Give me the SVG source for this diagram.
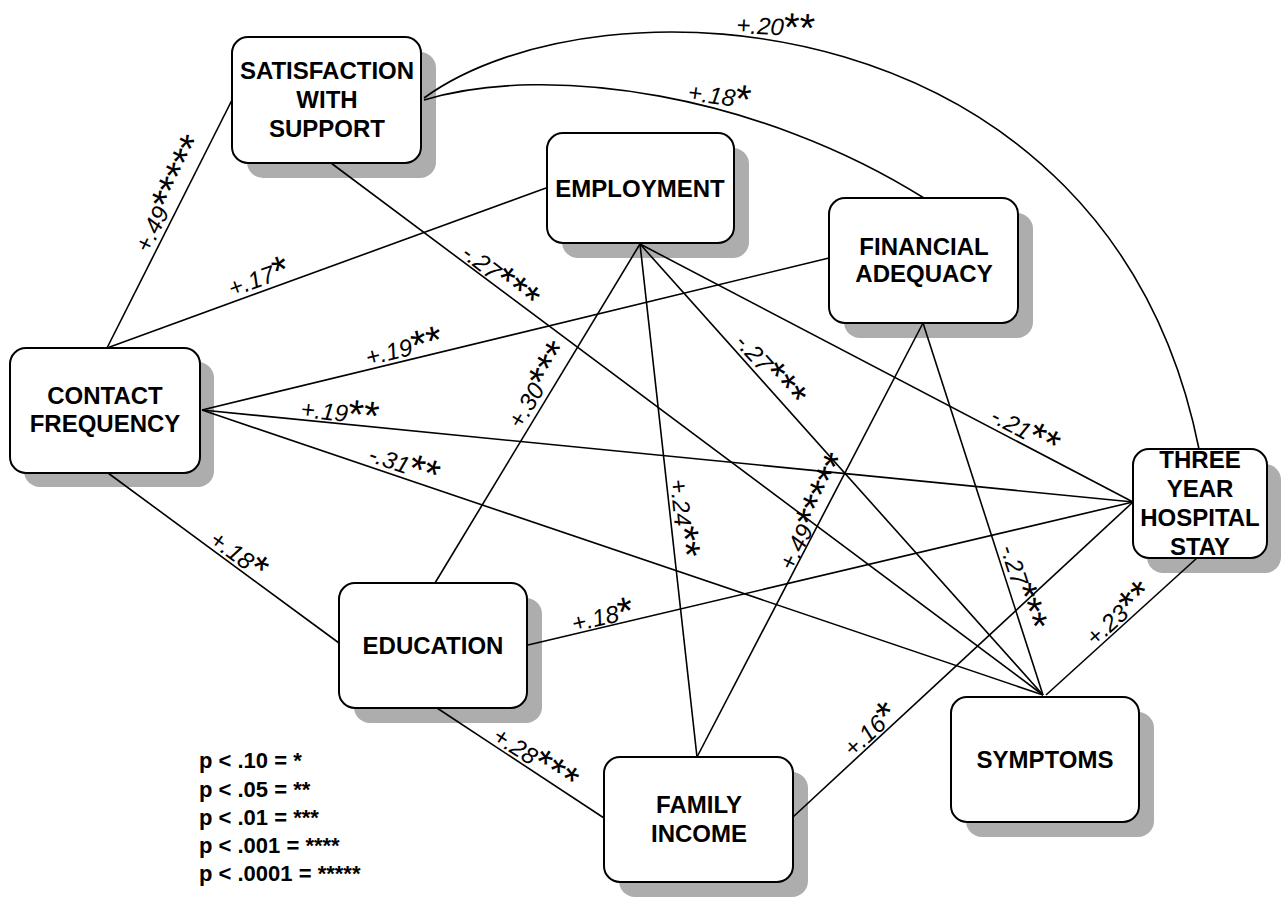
<svg xmlns="http://www.w3.org/2000/svg" width="1281" height="898" viewBox="0 0 1281 898">
<style>
.box{fill:#fff;stroke:#000;stroke-width:2}
.sh{fill:#adadad}
.nt{font-family:"Liberation Sans",Arial,sans-serif;font-weight:bold;font-size:24px;text-anchor:middle;fill:#000}
.ln{fill:none;stroke:#000;stroke-width:1.6}
.lb{font-family:"Liberation Sans",Arial,sans-serif;font-style:italic;font-size:24px;fill:#000}
.st{font-style:normal;font-size:40px}
.lg{font-family:"Liberation Sans",Arial,sans-serif;font-weight:bold;font-size:22px;fill:#000}
</style>
<rect width="1281" height="898" fill="#fff"/>
<g id="satisfaction">
<rect class="sh" x="247" y="52" width="189" height="126" rx="16"/>
<rect class="box" x="232" y="37" width="189" height="126" rx="16"/>
<text class="nt" x="327" y="79">SATISFACTION</text>
<text class="nt" x="327" y="108">WITH</text>
<text class="nt" x="327" y="137">SUPPORT</text>
</g>
<g id="employment">
<rect class="sh" x="562" y="148" width="187" height="110" rx="16"/>
<rect class="box" x="547" y="133" width="187" height="110" rx="16"/>
<text class="nt" x="640" y="197">EMPLOYMENT</text>
</g>
<g id="financial">
<rect class="sh" x="844" y="213" width="189" height="125" rx="16"/>
<rect class="box" x="829" y="198" width="189" height="125" rx="16"/>
<text class="nt" x="924" y="255">FINANCIAL</text>
<text class="nt" x="924" y="282">ADEQUACY</text>
</g>
<g id="contact">
<rect class="sh" x="24" y="362" width="190" height="125" rx="16"/>
<rect class="box" x="10" y="348" width="190" height="125" rx="16"/>
<text class="nt" x="105" y="404">CONTACT</text>
<text class="nt" x="105" y="432">FREQUENCY</text>
</g>
<g id="education">
<rect class="sh" x="354" y="598" width="188" height="125" rx="16"/>
<rect class="box" x="339" y="583" width="188" height="125" rx="16"/>
<text class="nt" x="433" y="654">EDUCATION</text>
</g>
<g id="family">
<rect class="sh" x="619" y="772" width="189" height="125" rx="16"/>
<rect class="box" x="604" y="757" width="189" height="125" rx="16"/>
<text class="nt" x="699" y="813">FAMILY</text>
<text class="nt" x="699" y="842">INCOME</text>
</g>
<g id="symptoms">
<rect class="sh" x="966" y="712" width="188" height="125" rx="16"/>
<rect class="box" x="951" y="697" width="188" height="125" rx="16"/>
<text class="nt" x="1045" y="768">SYMPTOMS</text>
</g>
<g id="hospital">
<rect class="sh" x="1147" y="464" width="134" height="109" rx="16"/>
<rect class="box" x="1133" y="449" width="134" height="109" rx="16"/>
<text class="nt" x="1200" y="468">THREE</text>
<text class="nt" x="1200" y="497">YEAR</text>
<text class="nt" x="1200" y="526">HOSPITAL</text>
<text class="nt" x="1200" y="555">STAY</text>
</g>
<g id="connectors">
<path class="ln" d="M424,98 C600,-30 1109,-1 1199,449"/>
<path class="ln" d="M424,100 C550,62 760,95 924,198"/>
<line class="ln" x1="232" y1="100" x2="107" y2="348"/>
<line class="ln" x1="331" y1="163" x2="1043" y2="695"/>
<line class="ln" x1="107" y1="348" x2="546" y2="188"/>
<line class="ln" x1="202" y1="410" x2="829" y2="258"/>
<line class="ln" x1="202" y1="410" x2="1133" y2="502"/>
<line class="ln" x1="202" y1="410" x2="1043" y2="695"/>
<line class="ln" x1="108" y1="473" x2="339" y2="643"/>
<line class="ln" x1="435" y1="583" x2="640" y2="244"/>
<line class="ln" x1="528" y1="645" x2="1133" y2="502"/>
<line class="ln" x1="437" y1="708" x2="604" y2="818"/>
<line class="ln" x1="640" y1="244" x2="697" y2="757"/>
<line class="ln" x1="640" y1="244" x2="1043" y2="695"/>
<line class="ln" x1="640" y1="244" x2="1133" y2="502"/>
<line class="ln" x1="923" y1="323" x2="697" y2="757"/>
<line class="ln" x1="923" y1="323" x2="1043" y2="695"/>
<line class="ln" x1="793" y1="817" x2="1133" y2="502"/>
<line class="ln" x1="1197" y1="558" x2="1046" y2="695"/>
</g>
<g id="labels" class="lb">
<text transform="translate(736,33) rotate(3)">+.20<tspan class="st" dy="5">**</tspan></text>
<text transform="translate(687,100) rotate(8)">+.18<tspan class="st" dy="5">*</tspan></text>
<text transform="translate(149,254) rotate(-64)">+.49<tspan class="st" dy="5">*****</tspan></text>
<text transform="translate(460,256) rotate(38)">-.27<tspan class="st" dy="5">***</tspan></text>
<text transform="translate(232,297) rotate(-20)">+.17<tspan class="st" dy="5">*</tspan></text>
<text transform="translate(368,366) rotate(-14)">+.19<tspan class="st" dy="5">**</tspan></text>
<text transform="translate(300,417) rotate(6)">+.19<tspan class="st" dy="5">**</tspan></text>
<text transform="translate(367,461) rotate(19)">-.31<tspan class="st" dy="5">**</tspan></text>
<text transform="translate(208,543) rotate(36)">+.18<tspan class="st" dy="5">*</tspan></text>
<text transform="translate(521,430) rotate(-59)">+.30<tspan class="st" dy="5">***</tspan></text>
<text transform="translate(734,343) rotate(48)">-.27<tspan class="st" dy="5">***</tspan></text>
<text transform="translate(989,421) rotate(28)">-.21<tspan class="st" dy="5">**</tspan></text>
<text transform="translate(670,480) rotate(84)">+.24<tspan class="st" dy="5">**</tspan></text>
<text transform="translate(793,572) rotate(-64)">+.49<tspan class="st" dy="5">*****</tspan></text>
<text transform="translate(1000,548) rotate(72)">-.27<tspan class="st" dy="5">***</tspan></text>
<text transform="translate(1095,647) rotate(-42)">+.23<tspan class="st" dy="5">**</tspan></text>
<text transform="translate(853,758) rotate(-43)">+.16<tspan class="st" dy="5">*</tspan></text>
<text transform="translate(491,740) rotate(33)">+.28<tspan class="st" dy="5">***</tspan></text>
<text transform="translate(574,632) rotate(-13)">+.18<tspan class="st" dy="5">*</tspan></text>
</g>
<g id="legend" class="lg">
<text x="199" y="768">p &lt; .10 = *</text>
<text x="199" y="797">p &lt; .05 = **</text>
<text x="199" y="825">p &lt; .01 = ***</text>
<text x="199" y="853">p &lt; .001 = ****</text>
<text x="199" y="881">p &lt; .0001 = *****</text>
</g>
</svg>
